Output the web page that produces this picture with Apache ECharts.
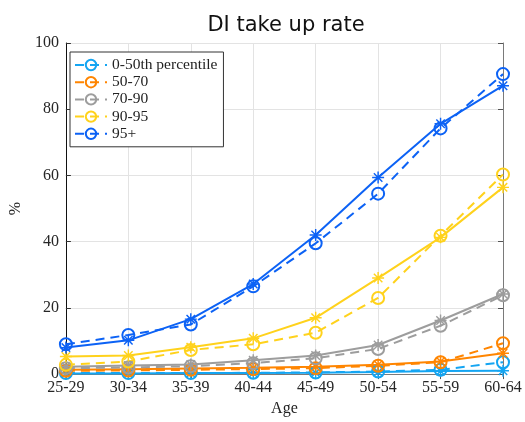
<!DOCTYPE html>
<html>
<head>
<meta charset="utf-8">
<script src="https://cdn.jsdelivr.net/npm/echarts@6/dist/echarts.min.js"></script>
<style>
  html, body { margin: 0; padding: 0; background: #ffffff; }
  #chart { width: 525px; height: 422px; }
</style>
</head>
<body>
<div id="chart"></div>
<script>
// Age bands on the horizontal axis
const ageGroups = ['25-29', '30-34', '35-39', '40-44', '45-49', '50-54', '55-59', '60-64'];

// Income groups shown in the legend
const groupNames = ['0-50th percentile', '50-70', '70-90', '90-95', '95+'];
const groupColors = ['#14a5f2', '#ff8500', '#9d9d9d', '#ffd21c', '#0c62f5'];

// Take-up rate (%) — dashed lines, circle markers
const dashedP0to50 = [0.3, 0.3, 0.3, 0.4, 0.5, 0.8, 1.3, 3.6];
const dashedP50to70 = [1.0, 1.1, 1.3, 1.5, 1.8, 2.5, 3.6, 9.3];
const dashedP70to90 = [1.8, 2.0, 2.4, 3.3, 4.8, 7.6, 14.6, 23.8];
const dashedP90to95 = [2.8, 3.8, 7.3, 9.0, 12.5, 23.0, 41.8, 60.3];
const dashedP95plus = [9.0, 11.8, 15.0, 26.5, 39.5, 54.5, 74.2, 90.6];

// Take-up rate (%) — solid lines, asterisk markers
const solidP0to50 = [0.2, 0.2, 0.3, 0.3, 0.4, 0.6, 0.9, 1.0];
const solidP50to70 = [1.3, 1.5, 1.7, 1.9, 2.2, 2.8, 3.8, 6.3];
const solidP70to90 = [2.2, 2.6, 2.9, 4.2, 5.6, 8.8, 16.2, 24.2];
const solidP90to95 = [5.3, 5.6, 8.1, 10.8, 17.0, 29.0, 41.3, 56.4];
const solidP95plus = [8.0, 10.2, 16.6, 27.2, 42.0, 59.4, 75.6, 87.1];

// Y-axis ticks
const yMin = 0;
const yMax = 100;
const yStep = 20;

const dashedValues = [dashedP0to50, dashedP50to70, dashedP70to90, dashedP90to95, dashedP95plus];
const solidValues = [solidP0to50, solidP50to70, solidP70to90, solidP90to95, solidP95plus];

// Eight-spoke asterisk marker built from four thin bars
function asteriskPath() {
  const L = 10, w = 1.2;
  let d = '';
  [0, 45, 90, 135].forEach(function (deg) {
    const t = deg * Math.PI / 180;
    const dx = Math.cos(t), dy = Math.sin(t);
    const nx = -dy, ny = dx;
    const pts = [
      [L * dx + w * nx, L * dy + w * ny],
      [L * dx - w * nx, L * dy - w * ny],
      [-L * dx - w * nx, -L * dy - w * ny],
      [-L * dx + w * nx, -L * dy + w * ny]
    ];
    d += 'M' + pts.map(function (p) { return p[0].toFixed(3) + ',' + p[1].toFixed(3); }).join(' L') + ' Z ';
  });
  return 'path://' + d;
}
const ASTERISK = asteriskPath();

const serif = '"Liberation Serif", "DejaVu Serif", serif';

const series = [];
groupNames.forEach(function (name, i) {
  const color = groupColors[i];
  series.push({
    name: name + ' (solid)',
    type: 'line',
    data: solidValues[i],
    symbol: ASTERISK,
    symbolSize: 12,
    symbolKeepAspect: true,
    showAllSymbol: true,
    lineStyle: { color: color, width: 2, type: 'solid' },
    itemStyle: { color: color, borderWidth: 0 },
    emphasis: { disabled: true },
    z: 3
  });
  series.push({
    name: name,
    type: 'line',
    data: dashedValues[i],
    symbol: 'circle',
    symbolSize: 12,
    showAllSymbol: true,
    lineStyle: { color: color, width: 2, type: [9, 6] },
    itemStyle: { color: 'rgba(255,255,255,0)', borderColor: color, borderWidth: 2 },
    emphasis: { disabled: true },
    z: 3
  });
});

const chart = echarts.init(document.getElementById('chart'), null, { renderer: 'canvas' });

chart.setOption({
  animation: false,
  backgroundColor: '#ffffff',
  title: {
    text: 'DI take up rate',
    left: 281,
    textAlign: 'center',
    top: 10,
    textStyle: {
      fontFamily: '"DejaVu Sans", sans-serif',
      fontWeight: 'normal',
      fontSize: 21,
      color: '#111111'
    }
  },
  legend: {
    data: groupNames,
    orient: 'vertical',
    left: 70,
    top: 52,
    padding: [5, 6, 5, 4],
    itemWidth: 32,
    itemHeight: 13,
    itemGap: 1.2,
    selectedMode: false,
    backgroundColor: '#ffffff',
    borderColor: '#333333',
    borderWidth: 1,
    textStyle: { fontFamily: serif, fontSize: 15.5, color: '#222222' }
  },
  grid: { left: 61, right: 22, top: 43, bottom: 46, containLabel: false },
  xAxis: [
    {
      type: 'category',
      data: ageGroups,
      boundaryGap: false,
      position: 'bottom',
      name: 'Age',
      nameLocation: 'middle',
      nameGap: 25,
      nameTextStyle: { fontFamily: serif, fontSize: 16, color: '#222222' },
      axisLine: { show: true, lineStyle: { color: '#333333', width: 1 } },
      axisTick: { show: true, inside: true, length: 5, alignWithLabel: true, lineStyle: { color: '#333333' } },
      axisLabel: { fontFamily: serif, fontSize: 16, color: '#262626', margin: 6, interval: 0 },
      splitLine: { show: true, lineStyle: { color: '#e3e3e3', width: 1 } }
    },
    {
      type: 'category',
      data: ageGroups,
      boundaryGap: false,
      position: 'top',
      axisLine: { show: true, lineStyle: { color: '#7a7a7a', width: 1 } },
      axisTick: { show: true, inside: true, length: 5, lineStyle: { color: '#555555' } },
      axisLabel: { show: false },
      splitLine: { show: false }
    }
  ],
  yAxis: [
    {
      type: 'value',
      min: yMin,
      max: yMax,
      interval: yStep,
      position: 'left',
      name: '%',
      nameLocation: 'middle',
      nameGap: 40,
      nameRotate: 90,
      nameTextStyle: { fontFamily: serif, fontSize: 16, color: '#222222' },
      axisLine: { show: true, lineStyle: { color: '#111111', width: 1 } },
      axisTick: { show: true, inside: true, length: 5, lineStyle: { color: '#333333' } },
      axisLabel: { fontFamily: serif, fontSize: 16, color: '#262626', margin: 7 },
      splitLine: { show: true, lineStyle: { color: '#e3e3e3', width: 1 } }
    },
    {
      type: 'value',
      min: yMin,
      max: yMax,
      interval: yStep,
      position: 'right',
      axisLine: { show: true, lineStyle: { color: '#7a7a7a', width: 1 } },
      axisTick: { show: true, inside: true, length: 5, lineStyle: { color: '#555555' } },
      axisLabel: { show: false },
      splitLine: { show: false }
    }
  ],
  series: series
});
</script>
</body>
</html>
